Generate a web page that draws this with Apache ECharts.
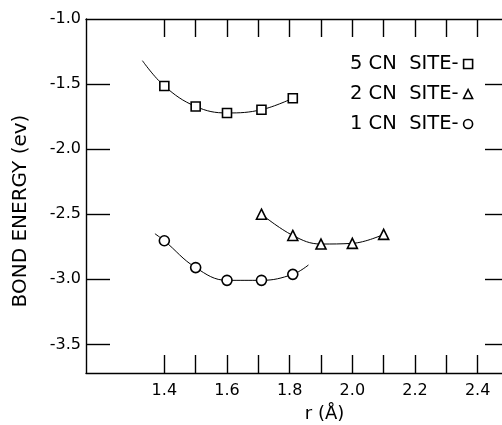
<!DOCTYPE html>
<html>
<head>
<meta charset="utf-8">
<script src="https://cdn.jsdelivr.net/npm/echarts@6/dist/echarts.min.js"></script>
<style>
    html, body { margin: 0; padding: 0; background: #fff; }
    #chart { width: 502px; height: 425px; }
</style>
</head>
<body>
<div id="chart"></div>
<script>
// axis ticks and labels
const xTicks = [1.4, 1.5, 1.6, 1.7, 1.8, 1.9, 2.0, 2.1, 2.2, 2.3, 2.4]
const xLabels = [1.4, 1.6, 1.8, 2.0, 2.2, 2.4]
const yTicks = [-1.5, -2.0, -2.5, -3.0, -3.5]
const yLabels = [-1.0, -1.5, -2.0, -2.5, -3.0, -3.5]

const siteNames = ['5 CN  SITE-', '2 CN  SITE-', '1 CN  SITE-']
const siteSymbols = ['rect', 'triangle', 'circle']

// 5 CN site (squares)
const r5 = [1.4, 1.5, 1.6, 1.71, 1.81]
const e5 = [-1.515, -1.672, -1.722, -1.697, -1.609]
const curve5Start = [1.33, -1.32]

// 2 CN site (triangles)
const r2 = [1.71, 1.81, 1.9, 2.0, 2.1]
const e2 = [-2.5, -2.663, -2.729, -2.724, -2.655]

// 1 CN site (circles)
const r1 = [1.4, 1.5, 1.6, 1.71, 1.81]
const e1 = [-2.704, -2.91, -3.008, -3.008, -2.962]
const curve1Start = [1.37, -2.65]
const curve1End = [1.86, -2.89]

const font = 'DejaVu Sans'

const toPoints = (rs, es) => rs.map((r, i) => [r, es[i]])
const curvePoint = p => ({ value: p, symbol: 'none' })

const makeSeries = (name, symbol, size, data) => ({
    name: name,
    type: 'line',
    smooth: 0.4,
    symbol: symbol,
    symbolSize: size,
    showAllSymbol: true,
    itemStyle: { color: '#fff', borderColor: '#000', borderWidth: 1.6 },
    lineStyle: { color: '#000', width: 1 },
    emphasis: { disabled: true },
    data: data
})

const chart = echarts.init(document.getElementById('chart'))

const baseX = {
    type: 'value',
    min: 1.15,
    max: 2.5,
    splitLine: { show: false },
    axisLine: { onZero: false, lineStyle: { color: '#000', width: 1.4 } },
    axisTick: { inside: true, length: 18, customValues: xTicks, lineStyle: { color: '#000', width: 1.4 } }
}
const baseY = {
    type: 'value',
    min: -3.72,
    max: -1.0,
    splitLine: { show: false },
    axisLine: { onZero: false, lineStyle: { color: '#000', width: 1.4 } },
    axisTick: { inside: true, length: 24, customValues: yTicks, lineStyle: { color: '#000', width: 1.4 } }
}

const option = {
    animation: false,
    backgroundColor: '#fff',
    grid: { left: 86, top: 19, right: -7, bottom: 52, containLabel: false, outerBoundsMode: 'none' },
    xAxis: [
        Object.assign({}, baseX, {
            position: 'bottom',
            name: 'r (Å)',
            nameLocation: 'middle',
            nameGap: 32,
            nameTextStyle: { fontFamily: font, fontSize: 18, color: '#000', padding: [0, 0, 0, 54] },
            axisLabel: {
                customValues: xLabels,
                margin: 10,
                fontFamily: font,
                fontSize: 16,
                color: '#000',
                formatter: v => v.toFixed(1)
            }
        }),
        Object.assign({}, baseX, {
            position: 'top',
            axisLabel: { show: false }
        })
    ],
    yAxis: [
        Object.assign({}, baseY, {
            position: 'left',
            name: 'BOND ENERGY (ev)',
            nameLocation: 'middle',
            nameGap: 55,
            nameTextStyle: { fontFamily: font, fontSize: 20, color: '#000', padding: [0, 30, 0, 0] },
            axisLabel: {
                customValues: yLabels,
                margin: 5,
                fontFamily: font,
                fontSize: 16,
                color: '#000',
                formatter: v => v.toFixed(1)
            }
        }),
        Object.assign({}, baseY, {
            position: 'right',
            axisLabel: { show: false }
        })
    ],
    legend: {
        orient: 'vertical',
        align: 'right',
        left: 345,
        top: 49,
        itemGap: 10,
        itemWidth: 9,
        itemHeight: 9,
        selectedMode: false,
        itemStyle: { color: '#fff', borderColor: '#000', borderWidth: 1.6 },
        textStyle: { fontFamily: font, fontSize: 19.5, color: '#000', lineHeight: 20 },
        data: siteNames.map((name, i) => ({ name: name, icon: siteSymbols[i] }))
    },
    series: [
        makeSeries(siteNames[0], siteSymbols[0], 9,
            [curvePoint(curve5Start)].concat(toPoints(r5, e5))),
        makeSeries(siteNames[1], siteSymbols[1], 10,
            toPoints(r2, e2)),
        makeSeries(siteNames[2], siteSymbols[2], 10,
            [curvePoint(curve1Start)].concat(toPoints(r1, e1), [curvePoint(curve1End)]))
    ]
}

chart.setOption(option)
</script>
</body>
</html>
